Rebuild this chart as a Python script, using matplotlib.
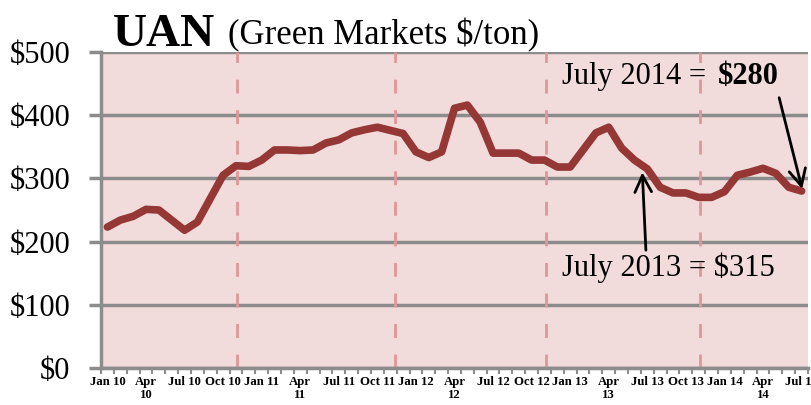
import matplotlib
matplotlib.use("Agg")
import matplotlib.pyplot as plt
import numpy as np

# monthly UAN prices, Jan 2010 .. Jul 2014
prices = [223, 234, 240, 251, 250, 234, 218, 231, 268, 305, 320, 319,
          329, 345, 345, 344, 345, 356, 361, 372, 377, 381, 376, 371,
          342, 333, 342, 411, 416, 389, 340, 340, 340, 329, 329, 318,
          318, 345, 372, 381, 348, 329, 315, 286, 277, 277, 270, 270,
          279, 305, 310, 316, 308, 286, 280]

tick_labels = ["Jan 10", "Apr\n10", "Jul 10", "Oct 10",
               "Jan 11", "Apr\n11", "Jul 11", "Oct 11",
               "Jan 12", "Apr\n12", "Jul 12", "Oct 12",
               "Jan 13", "Apr\n13", "Jul 13", "Oct 13",
               "Jan 14", "Apr\n14", "Jul 14"]

season_marks = [10.1, 22.4, 34.1, 46.1]

yticks = [0, 100, 200, 300, 400, 500]

plt.rcParams['font.family'] = ['Liberation Serif', 'DejaVu Serif']

fig = plt.figure(figsize=(8.11, 4.05), dpi=100)
ax = fig.add_axes([101/811, 37/405, 707/811, 316/405])
ax.set_facecolor('#F2DCDB')

x = np.arange(len(prices))

# gridlines
for v in yticks:
    ax.axhline(v, color='#8C8C8C', lw=2.5, zorder=1)

# seasonal dashed lines
for m in season_marks:
    ax.axvline(m, color='#E09797', lw=2, dashes=(5, 6), zorder=1)

ax.plot(x, prices, color='#953735', lw=5.5, solid_joinstyle='round',
        solid_capstyle='round', zorder=3)

ax.set_xlim(-0.5, len(prices) - 0.5)
ax.set_ylim(0, 500)

ax.set_yticks(yticks)
ax.set_yticklabels(['$' + str(v) for v in yticks], fontsize=22)
ax.tick_params(axis='y', length=9, width=2.5, color='#8C8C8C', pad=13)

ax.set_xticks(x[::3])
ax.set_xticklabels(tick_labels, fontsize=9.2, fontweight='bold', va='top',
                   linespacing=1.05)
ax.set_xticks(np.arange(-0.5, len(prices), 1), minor=True)
ax.tick_params(axis='x', which='major', length=0, pad=6)
ax.tick_params(axis='x', which='minor', length=4, width=1.5, color='#8C8C8C')

for s in ['top', 'right']:
    ax.spines[s].set_visible(False)
ax.spines['left'].set_color('#8C8C8C')
ax.spines['left'].set_linewidth(2.5)
ax.spines['bottom'].set_color('#8C8C8C')
ax.spines['bottom'].set_linewidth(2.5)

# title
fig.text(113/811, 1 - 46/405, 'UAN', fontsize=34, fontweight='bold',
         va='baseline')
fig.text(228/811, 1 - 44/405, '(Green Markets $/ton)', fontsize=25,
         va='baseline')

# annotations
ax.text(35.4, 461, 'July 2014 =', fontsize=22, va='center')
ax.text(47.5, 461, '$280', fontsize=22, fontweight='bold', va='center')
ax.annotate('', xy=(54.1, 279), xytext=(52.2, 432),
            arrowprops=dict(arrowstyle='->', lw=2, color='black',
                            mutation_scale=30))

ax.text(35.4, 158, 'July 2013 = $315', fontsize=22, va='center')
ax.annotate('', xy=(41.6, 314), xytext=(41.9, 182),
            arrowprops=dict(arrowstyle='->', lw=2, color='black',
                            mutation_scale=30))

fig.savefig('out.png', dpi=100)
